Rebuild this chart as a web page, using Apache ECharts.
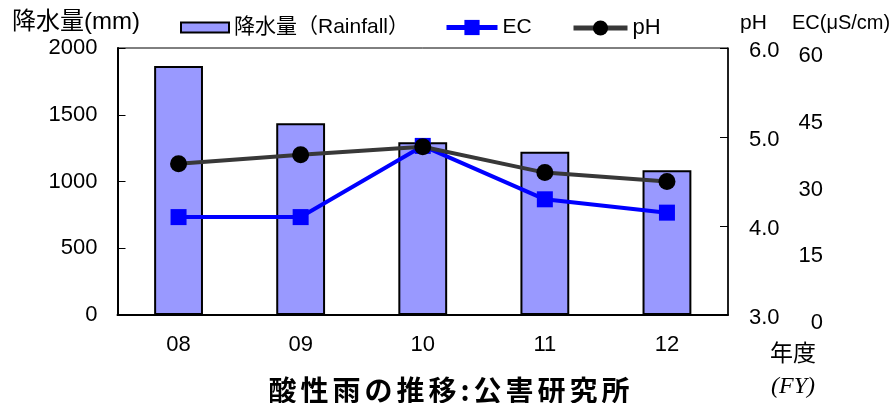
<!DOCTYPE html>
<html><head><meta charset="utf-8">
<script src="https://cdn.jsdelivr.net/npm/echarts@6/dist/echarts.min.js"></script>
<style>html,body{margin:0;padding:0;background:#fff}#c{width:894px;height:403px}</style>
</head><body><div id="c"></div>
<script>
const categories = ['08', '09', '10', '11', '12'];
const rainfall = [1865, 1436, 1294, 1223, 1084];
const ecValues = [22, 22, 38, 26, 23];
const phValues = [4.70, 4.80, 4.89, 4.60, 4.50];
const rainTicks = {min: 0, max: 2000, interval: 500};
const phTicks = {min: 3, max: 6, interval: 1};
const ecTicks = {min: 0, max: 60, interval: 15};
const chartTitle = '酸性雨の推移:公害研究所';

const FF = '"Liberation Sans", "Noto Sans CJK JP", sans-serif';
const titleRich = chartTitle.split('').map(ch => '{' + (ch === ':' ? 'k' : 'c') + '|' + ch + '}').join('');

const chart = echarts.init(document.getElementById('c'));
chart.setOption({
  animation: false,
  backgroundColor: '#fff',
  textStyle: {fontFamily: FF},
  grid: {left: 117.5, right: 166, top: 48, bottom: 88, show: true, borderColor: '#000', borderWidth: 1, containLabel: false},
  legend: [
    {data: [{name: '降水量（Rainfall）', icon: 'rect'}], left: 180, top: 17, padding: 0, itemWidth: 48, itemHeight: 10,
     textStyle: {fontSize: 21, color: '#000', fontFamily: FF}},
    {data: ['EC'], left: 444, top: 17, padding: 0, itemWidth: 51, itemHeight: 19,
     lineStyle: {width: 5},
     textStyle: {fontSize: 21, color: '#000', fontFamily: FF}},
    {data: ['pH'], left: 571, top: 17, padding: 0, itemWidth: 54, itemHeight: 19,
     lineStyle: {width: 5},
     textStyle: {fontSize: 22, color: '#000', fontFamily: FF}}
  ],
  xAxis: {
    type: 'category', data: categories,
    axisLine: {lineStyle: {color: '#000', width: 2}},
    axisTick: {inside: true, length: 7, lineStyle: {color: '#000'}},
    axisLabel: {fontSize: 22, color: '#000', margin: 19, fontFamily: FF}
  },
  yAxis: [
    {type: 'value', min: rainTicks.min, max: rainTicks.max, interval: rainTicks.interval, position: 'left',
     axisLine: {show: true, lineStyle: {color: '#000', width: 2}},
     axisTick: {show: true, inside: true, length: 8, lineStyle: {color: '#000'}},
     splitLine: {show: false},
     axisLabel: {fontSize: 22, color: '#000', margin: 20, fontFamily: FF, formatter: v => String(v)}},
    {type: 'value', min: phTicks.min, max: phTicks.max, interval: phTicks.interval, position: 'right',
     axisLine: {show: true, lineStyle: {color: '#000', width: 1.5}},
     axisTick: {show: true, inside: true, length: 8, lineStyle: {color: '#000'}},
     splitLine: {show: false},
     axisLabel: {color: '#000', margin: 21,
       formatter: v => '{p|' + v.toFixed(1) + '}',
       rich: {p: {fontSize: 22, fontFamily: FF, color: '#000', padding: [5, 0, 0, 0]}}}},
    {type: 'value', min: ecTicks.min, max: ecTicks.max, interval: ecTicks.interval, position: 'right',
     axisLine: {show: false}, axisTick: {show: false}, splitLine: {show: false},
     axisLabel: {color: '#000', margin: 95, align: 'right',
       formatter: v => '{e|' + v + '}',
       rich: {e: {fontSize: 22, fontFamily: FF, color: '#000', padding: [16, 0, 0, 0]}}}}
  ],
  series: [
    {name: '降水量（Rainfall）', type: 'bar', data: rainfall, barWidth: '40%', yAxisIndex: 0,
     itemStyle: {color: '#9999FF', borderColor: '#000', borderWidth: 2}},
    {name: 'EC', type: 'line', data: ecValues, yAxisIndex: 2, symbol: 'rect', symbolSize: 16,
     lineStyle: {color: '#0000FF', width: 4}, itemStyle: {color: '#0000FF'}},
    {name: 'pH', type: 'line', data: phValues, yAxisIndex: 1, symbol: 'circle', symbolSize: 17,
     lineStyle: {color: '#383838', width: 4}, itemStyle: {color: '#000'}}
  ],
  graphic: [
    {type: 'text', left: 12, top: 10, style: {text: '降水量(mm)', font: '24px ' + FF, fill: '#000'}},
    {type: 'text', left: 740, top: 13, style: {text: 'pH', font: '21px ' + FF, fill: '#000'}},
    {type: 'text', left: 792, top: 13, style: {text: 'EC(μS/cm)', font: '20px ' + FF, fill: '#000'}},
    {type: 'text', left: 770, top: 343, style: {text: '年度', font: '23px ' + FF, fill: '#000'}},
    {type: 'text', left: 771, top: 375, style: {text: '(FY)', font: 'italic 24px "Liberation Serif", serif', fill: '#000'}},
    {type: 'text', x: 449, y: 390, style: {text: titleRich, fill: '#000', textAlign: 'center', textVerticalAlign: 'middle',
      rich: {
        c: {font: 'bold 28px "Noto Sans CJK JP", sans-serif', fill: '#000', padding: [0, 2, 0, 2]},
        k: {font: 'bold 28px "Noto Sans CJK JP", sans-serif', fill: '#000', padding: [0, 2, 0, 2]}
      }}}
  ]
});
</script></body></html>
